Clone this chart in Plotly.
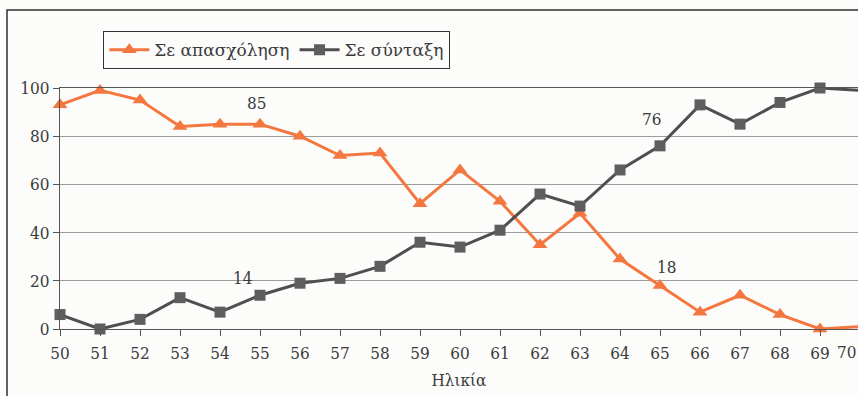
import plotly.graph_objects as go

ages = list(range(50, 71))
employed = [93, 99, 95, 84, 85, 85, 80, 72, 73, 52, 66, 53, 35, 48, 29, 18, 7, 14, 6, 0, 1]
retired = [6, 0, 4, 13, 7, 14, 19, 21, 26, 36, 34, 41, 56, 51, 66, 76, 93, 85, 94, 100, 99]
y_ticks = [0, 20, 40, 60, 80, 100]

# value notes placed next to selected points: (x, y, text)
notes = [(54.92, 93.8, "85"), (54.57, 21.2, "14"), (64.79, 87.1, "76"), (65.17, 25.6, "18")]

FONT = "DejaVu Serif Condensed, DejaVu Serif, serif"
LEGEND_FONT = "DejaVu Serif, serif"
ORANGE = "#f3773f"
GREY = "#4f4f4f"
TEXT = "#3a3a3a"

X_MIN, X_MAX = 50, 69.95

fig = go.Figure()
fig.add_trace(go.Scatter(
    x=ages, y=employed, name="Σε απασχόληση", mode="lines+markers",
    line=dict(color=ORANGE, width=3),
    marker=dict(symbol="triangle-up", size=13, color=ORANGE),
    cliponaxis=False,
))
fig.add_trace(go.Scatter(
    x=ages, y=retired, name="Σε σύνταξη", mode="lines+markers",
    line=dict(color=GREY, width=3),
    marker=dict(symbol="square", size=11, color="#5e5e5e"),
    cliponaxis=False,
))

for x, y, t in notes:
    fig.add_annotation(x=x, y=y, text=t, showarrow=False,
                       font=dict(family=FONT, size=17, color=TEXT))

# the last age label sits at the page edge; pulled in so it stays readable
fig.add_annotation(x=1.0, xref="paper", xanchor="right",
                   y=0, yref="paper", yanchor="top", yshift=-11,
                   text=str(ages[-1]), showarrow=False,
                   font=dict(family=FONT, size=17, color=TEXT))

# outer frame around the whole chart
fig.add_shape(type="rect", xref="paper", yref="paper",
              x0=-0.0664, x1=1.05, y0=-0.35, y1=1.3237,
              line=dict(color="#2e2e2e", width=1.5), layer="below")

fig.update_layout(
    width=858, height=396,
    margin=dict(l=60, r=0, t=88, b=67),
    paper_bgcolor="#fcfcfb", plot_bgcolor="#fcfcfb",
    font=dict(family=FONT, size=17, color=TEXT),
    showlegend=True,
    legend=dict(
        orientation="h", x=0.054, y=1.237, xanchor="left", yanchor="top",
        bordercolor="#333333", borderwidth=1.2, bgcolor="#fcfcfb",
        font=dict(family=LEGEND_FONT, size=17, color=TEXT),
        itemwidth=40, tracegroupgap=0,
    ),
    xaxis=dict(
        range=[X_MIN, X_MAX], tickmode="array", tickvals=ages[:-1],
        ticktext=[str(a) for a in ages[:-1]],
        showgrid=False, zeroline=False,
        showline=True, linecolor="#555555", linewidth=1.2, mirror=True,
        ticks="outside", ticklen=6, tickcolor="#555555",
        ticklabelstandoff=2,
        title=dict(text="Ηλικία", standoff=12, font=dict(family=FONT, size=17, color=TEXT)),
    ),
    yaxis=dict(
        range=[0, 100], tickmode="array", tickvals=y_ticks,
        showgrid=True, gridcolor="#9c9c9c", gridwidth=1.2, zeroline=False,
        showline=True, linecolor="#555555", linewidth=1.2, mirror=True,
        ticks="outside", ticklen=6, tickcolor="#555555",
    ),
)

fig.write_html("out.html")
